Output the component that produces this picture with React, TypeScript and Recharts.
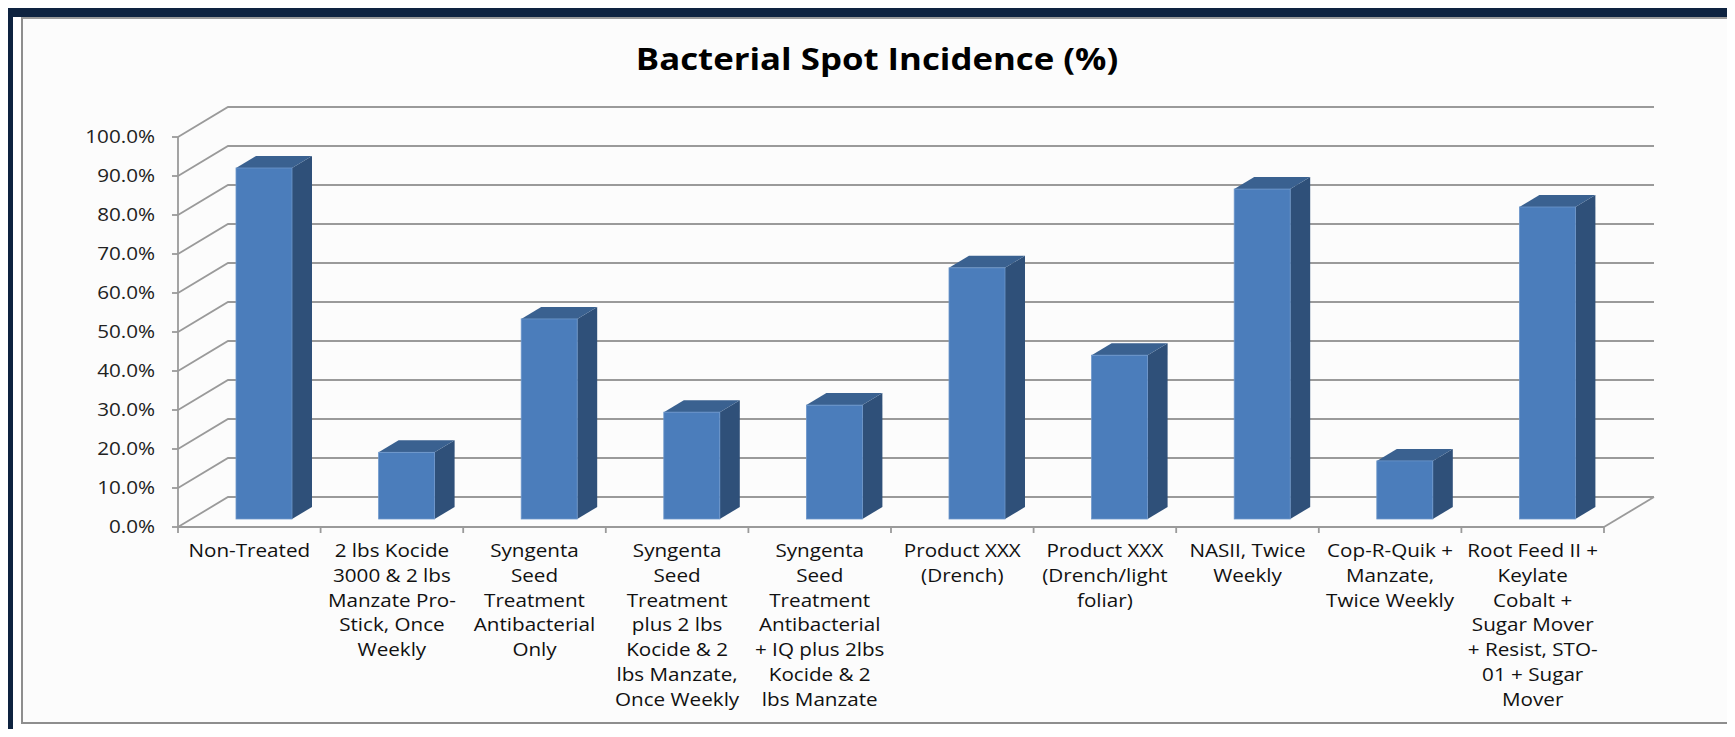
import { BarChart, Bar, XAxis, YAxis, CartesianGrid } from 'recharts'

const categories = [
    'Non-Treated',
    '2 lbs Kocide\n3000 & 2 lbs\nManzate Pro-\nStick, Once\nWeekly',
    'Syngenta\nSeed\nTreatment\nAntibacterial\nOnly',
    'Syngenta\nSeed\nTreatment\nplus 2 lbs\nKocide & 2\nlbs Manzate,\nOnce Weekly',
    'Syngenta\nSeed\nTreatment\nAntibacterial\n+ IQ plus 2lbs\nKocide & 2\nlbs Manzate',
    'Product XXX\n(Drench)',
    'Product XXX\n(Drench/light\nfoliar)',
    'NASII, Twice\nWeekly',
    'Cop-R-Quik +\nManzate,\nTwice Weekly',
    'Root Feed II +\nKeylate\nCobalt +\nSugar Mover\n+ Resist, STO-\n01 + Sugar\nMover',
]
const incidence = [0.9, 0.171, 0.513, 0.274, 0.292, 0.644, 0.42, 0.846, 0.149, 0.8]
const yTicks = [0, 0.1, 0.2, 0.3, 0.4, 0.5, 0.6, 0.7, 0.8, 0.9, 1]

const data = categories.map((name, i) => ({ name, value: incidence[i] }))

const W = 1735
const H = 737
const FONT = '"Open Sans", sans-serif'
const SX = 1.18 // the source picture is stretched sideways
const GRID = '#9a9a9a'
const BAND = 142.6
const PLOT_BOTTOM = 527
// 3D depth of the back wall and of the bars
const WALL_DX = 50
const WALL_DY = -30
const BAR_DX = 15
const BAR_DY = -8
const DEPTH_DX = 20
const DEPTH_DY = -12

const fmt = (v: number) => (v * 100).toFixed(1) + '%'

function Bar3D(props: any) {
    const { x, y, width, height } = props
    if (width == null || height == null) return null
    const fx = x + BAR_DX
    const fy = y + BAR_DY
    return (
        <g>
            <polygon
                points={`${fx + width},${fy} ${fx + width + DEPTH_DX},${fy + DEPTH_DY} ${fx + width + DEPTH_DX},${fy + DEPTH_DY + height} ${fx + width},${fy + height}`}
                fill="#2f5079"
            />
            <polygon
                points={`${fx},${fy} ${fx + DEPTH_DX},${fy + DEPTH_DY} ${fx + width + DEPTH_DX},${fy + DEPTH_DY} ${fx + width},${fy}`}
                fill="#3a6190"
            />
            <rect x={fx} y={fy} width={width} height={height} fill="#4b7dbb" stroke="#6d97cb" strokeWidth={0.8} />
        </g>
    )
}

function GridLine(props: any) {
    const { x1, y1, x2 } = props
    const back = y1 + WALL_DY
    return (
        <g>
            <path
                d={`M${x1},${y1} L${x1 + WALL_DX},${back} L${x2 + WALL_DX},${back}`}
                fill="none"
                stroke={GRID}
                strokeWidth={1.8}
            />
            {Math.abs(y1 - PLOT_BOTTOM) < 1 && (
                <line x1={x2} y1={y1} x2={x2 + WALL_DX} y2={back} stroke={GRID} strokeWidth={1.8} />
            )}
        </g>
    )
}

function CatTick(props: any) {
    const { x, y, payload, index } = props
    const lines = String(payload.value).split('\n')
    return (
        <g>
            <line x1={x - BAND / 2} y1={y} x2={x - BAND / 2} y2={y + 6} stroke={GRID} strokeWidth={1.8} />
            {index === categories.length - 1 && (
                <line x1={x + BAND / 2} y1={y} x2={x + BAND / 2} y2={y + 6} stroke={GRID} strokeWidth={1.8} />
            )}
            {lines.map((l, i) => (
                <text
                    key={i}
                    transform={`translate(${x},${y + 30 + i * 24.8}) scale(${SX},1)`}
                    textAnchor="middle"
                    fontFamily={FONT}
                    fontSize={17.5}
                    fill="#111"
                >
                    {l}
                </text>
            ))}
        </g>
    )
}

function YTick(props: any) {
    const { x, y, payload } = props
    return (
        <text
            transform={`translate(${x},${y + 6.2}) scale(${SX},1)`}
            textAnchor="end"
            fontFamily={FONT}
            fontSize={17.5}
            fill="#222"
        >
            {fmt(payload.value)}
        </text>
    )
}

export default function App() {
    return (
        <div style={{ position: 'relative', width: W, height: H, margin: -8, background: '#fff', overflow: 'hidden' }}>
            {/* cut-off table row above the chart */}
            <div style={{ position: 'absolute', left: 0, top: 0, width: W, height: 6, overflow: 'hidden' }}>
                <div style={{ position: 'absolute', left: 217, top: 0, width: 1.5, height: 6, background: '#000' }} />
                <div style={{ position: 'absolute', left: 1197, top: 0, width: 1.5, height: 6, background: '#000' }} />
                <div style={{ position: 'absolute', left: 1717, top: 0, width: 1.5, height: 6, background: '#000' }} />
                <svg width={W} height={6} style={{ position: 'absolute', left: 0, top: 0 }}>
                    <text transform={`translate(710,4.5) scale(${SX},1)`} textAnchor="middle" fontFamily={FONT} fontSize={17.5} fill="#000">
                        Root Feed II + Keylate Cobalt + Sugar Mover + Resist, STO-01 + Sugar Mover
                    </text>
                    <text transform={`translate(1457,4.5) scale(${SX},1)`} textAnchor="middle" fontFamily={FONT} fontSize={17.5} fill="#000">
                        None
                    </text>
                </svg>
            </div>

            {/* navy frame */}
            <div style={{ position: 'absolute', left: 5, top: 6, width: W - 5, height: 11, background: '#0e2340' }} />
            <div style={{ position: 'absolute', left: 5, top: 6, width: 8, height: H - 6, background: '#0e2340' }} />
            <div style={{ position: 'absolute', left: 5, top: 733, width: W - 5, height: 4, background: '#0e2340' }} />

            {/* chart area */}
            <div
                style={{
                    position: 'absolute',
                    left: 21,
                    top: 17,
                    width: 1734 - 21,
                    height: 724 - 17,
                    background: '#fcfcfc',
                    borderLeft: '2px solid #8e8e8e',
                    borderBottom: '2px solid #8e8e8e',
                    borderRight: '3px solid #8e8e8e',
                    borderTop: '2px solid #9a9a9a',
                    boxSizing: 'border-box',
                }}
            />

            <svg width={W} height={100} style={{ position: 'absolute', left: 0, top: 0 }}>
                <text
                    transform={`translate(877,70) scale(1.16,1)`}
                    textAnchor="middle"
                    fontFamily={FONT}
                    fontWeight={700}
                    fontSize={30}
                    fill="#000"
                >
                    Bacterial Spot Incidence (%)
                </text>
            </svg>

            <div style={{ position: 'absolute', left: 0, top: 0 }}>
                <BarChart width={W} height={H} data={data} margin={{ top: 137, right: 131, bottom: 10, left: 78 }}>
                    <CartesianGrid vertical={false} horizontal={(p: any) => <GridLine {...p} />} />
                    <XAxis
                        dataKey="name"
                        interval={0}
                        height={200}
                        tickSize={0}
                        tickMargin={0}
                        tickLine={false}
                        axisLine={{ stroke: GRID, strokeWidth: 1.8 }}
                        tick={(p: any) => <CatTick {...p} />}
                    />
                    <YAxis
                        width={100}
                        domain={[0, 1]}
                        ticks={yTicks}
                        interval={0}
                        tickSize={6}
                        tickMargin={17}
                        tickLine={{ stroke: GRID, strokeWidth: 1.8 }}
                        axisLine={{ stroke: GRID, strokeWidth: 1.8 }}
                        tick={(p: any) => <YTick {...p} />}
                    />
                    <Bar dataKey="value" barSize={56} isAnimationActive={false} shape={(p: any) => <Bar3D {...p} />} />
                </BarChart>
            </div>
        </div>
    )
}
